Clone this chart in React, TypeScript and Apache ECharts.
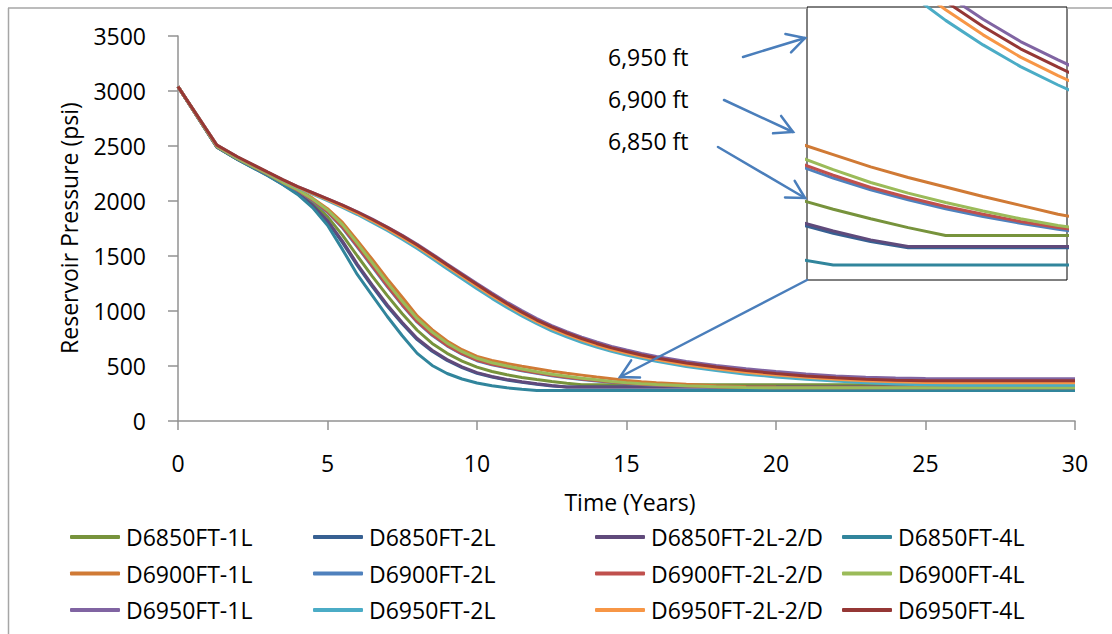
import React, { useEffect, useRef } from "react";
import * as echarts from "echarts";

// Time axis (years)
const years = [0, 1.3, 2, 3, 3.5, 4, 4.5, 5, 5.5, 6, 6.5, 7, 7.5, 8, 8.5, 9, 9.5, 10, 10.5, 11, 11.5, 12, 12.5, 13, 13.5, 14, 14.5, 15, 15.5, 16, 17, 18, 19, 20, 21, 22, 23, 24, 25, 26, 27, 28, 29, 30];

// Reservoir pressure (psi)
const d6850_1L = [3040, 2490, 2378, 2238, 2160, 2085, 1985, 1858, 1690, 1500, 1315, 1140, 975, 825, 705, 615, 545, 490, 450, 420, 396, 377, 360, 344, 330, 330, 330, 330, 330, 330, 330, 330, 330, 330, 330, 330, 330, 330, 330, 330, 330, 330, 330, 330];
const d6850_2L = [3040, 2492, 2378, 2235, 2153, 2068, 1955, 1812, 1622, 1412, 1222, 1043, 884, 740, 634, 550, 485, 434, 400, 373, 352, 334, 319, 308, 308, 308, 308, 308, 308, 308, 308, 308, 308, 308, 308, 308, 308, 308, 308, 308, 308, 308, 308, 308];
const d6850_2L2D = [3040, 2492, 2378, 2235, 2155, 2072, 1962, 1822, 1635, 1425, 1235, 1055, 895, 750, 643, 558, 492, 440, 405, 378, 356, 338, 322, 310, 310, 310, 310, 310, 310, 310, 310, 310, 310, 310, 310, 310, 310, 310, 310, 310, 310, 310, 310, 310];
const d6850_4L = [3040, 2490, 2375, 2230, 2150, 2060, 1940, 1780, 1560, 1330, 1140, 950, 775, 615, 505, 432, 382, 346, 320, 302, 288, 277, 277, 277, 277, 277, 277, 277, 277, 277, 277, 277, 277, 277, 277, 277, 277, 277, 277, 277, 277, 277, 277, 277];
const d6900_1L = [3040, 2495, 2385, 2247, 2172, 2106, 2026, 1930, 1805, 1640, 1468, 1292, 1125, 955, 830, 728, 648, 588, 550, 522, 497, 475, 453, 434, 417, 400, 384, 368, 356, 347, 333, 321, 312, 308, 306, 306, 306, 306, 306, 306, 306, 306, 306, 306];
const d6900_2L = [3040, 2495, 2385, 2245, 2167, 2095, 2005, 1898, 1757, 1582, 1402, 1222, 1053, 898, 779, 683, 607, 548, 510, 483, 457, 433, 412, 394, 378, 364, 352, 341, 332, 326, 316, 309, 304, 302, 302, 302, 302, 302, 302, 302, 302, 302, 302, 302];
const d6900_2L2D = [3040, 2495, 2385, 2245, 2168, 2098, 2010, 1905, 1765, 1590, 1410, 1230, 1060, 905, 785, 688, 612, 553, 515, 488, 462, 438, 416, 398, 382, 368, 355, 344, 335, 328, 318, 310, 305, 303, 303, 303, 303, 303, 303, 303, 303, 303, 303, 303];
const d6900_4L = [3040, 2495, 2385, 2246, 2170, 2102, 2018, 1918, 1785, 1615, 1437, 1258, 1088, 930, 808, 708, 630, 570, 530, 500, 473, 448, 425, 406, 389, 374, 360, 348, 338, 331, 320, 311, 305, 302, 302, 302, 302, 302, 302, 302, 302, 302, 302, 302];
const d6950_1L = [3040, 2508, 2400, 2262, 2195, 2130, 2075, 2020, 1963, 1902, 1835, 1764, 1688, 1606, 1519, 1428, 1339, 1250, 1163, 1080, 1003, 931, 868, 813, 763, 718, 678, 645, 614, 587, 542, 505, 474, 449, 427, 410, 398, 390, 386, 385, 385, 385, 385, 385];
const d6950_2L = [3040, 2505, 2396, 2258, 2190, 2122, 2063, 2004, 1942, 1877, 1806, 1732, 1652, 1568, 1478, 1385, 1294, 1203, 1115, 1032, 955, 884, 820, 766, 716, 672, 633, 600, 570, 542, 496, 458, 426, 401, 380, 363, 348, 337, 330, 326, 325, 325, 325, 325];
const d6950_2L2D = [3040, 2506, 2398, 2260, 2192, 2126, 2069, 2012, 1952, 1889, 1820, 1747, 1669, 1586, 1497, 1405, 1315, 1225, 1137, 1054, 976, 904, 840, 785, 735, 690, 650, 617, 586, 558, 512, 474, 443, 418, 397, 380, 366, 356, 350, 347, 347, 347, 347, 347];
const d6950_4L = [3040, 2508, 2400, 2262, 2195, 2130, 2075, 2020, 1962, 1900, 1832, 1760, 1683, 1600, 1512, 1420, 1330, 1240, 1152, 1068, 990, 918, 855, 800, 750, 705, 665, 632, 600, 573, 527, 490, 458, 432, 410, 393, 380, 371, 367, 367, 367, 367, 367, 367];

const seriesNames = ["D6850FT-1L", "D6850FT-2L", "D6850FT-2L-2/D", "D6850FT-4L", "D6900FT-1L", "D6900FT-2L", "D6900FT-2L-2/D", "D6900FT-4L", "D6950FT-1L", "D6950FT-2L", "D6950FT-2L-2/D", "D6950FT-4L"];
const seriesValues = [d6850_1L, d6850_2L, d6850_2L2D, d6850_4L, d6900_1L, d6900_2L, d6900_2L2D, d6900_4L, d6950_1L, d6950_2L, d6950_2L2D, d6950_4L];
const seriesColors = ["#77933c", "#376092", "#604a7b", "#31859c", "#d07a35", "#4f81bd", "#c0504d", "#9bbb59", "#8064a2", "#4bacc6", "#f79646", "#953735"];

const depthLabels = ["6,950 ft", "6,900 ft", "6,850 ft"];
const xTitle = "Time (Years)";
const yTitle = "Reservoir Pressure (psi)";

const FONT = "'Open Sans', sans-serif";
const FS = 23;
const AXIS_GRAY = "#929292";
const ARROW = "#4a7ebb";

function arrow(x1: number, y1: number, x2: number, y2: number) {
  const ang = Math.atan2(y1 - y2, x1 - x2);
  const L = 20;
  const a = 0.5;
  const w1 = [x2 + L * Math.cos(ang + a), y2 + L * Math.sin(ang + a)];
  const w2 = [x2 + L * Math.cos(ang - a), y2 + L * Math.sin(ang - a)];
  return [
    { type: "line", z: 100, shape: { x1, y1, x2, y2 }, style: { stroke: ARROW, lineWidth: 2.5, lineCap: "round" } },
    { type: "polyline", z: 100, shape: { points: [w1, [x2, y2], w2] }, style: { stroke: ARROW, lineWidth: 2.5, fill: null, lineCap: "round", lineJoin: "miter" } },
  ];
}

function textEl(text: string, x: number, y: number, align: string, rotation = 0) {
  return {
    type: "text",
    z: 100,
    x,
    y,
    rotation,
    style: {
      text,
      fontSize: FS,
      fontFamily: FONT,
      fill: "#000",
      textAlign: align,
      align,
      textVerticalAlign: "middle",
      verticalAlign: "middle",
    },
  };
}

function buildOption() {
  const mainSeries = seriesNames.map((name, i) => ({
    type: "line",
    name,
    xAxisIndex: 0,
    yAxisIndex: 0,
    z: 3,
    data: years.map((t, j) => [t, seriesValues[i][j]]),
    symbol: "none",
    silent: true,
    lineStyle: { width: 3, color: seriesColors[i] },
    itemStyle: { color: seriesColors[i] },
  }));
  const insetSeries = seriesNames.map((name, i) => ({
    type: "line",
    name: name + " inset",
    xAxisIndex: 1,
    yAxisIndex: 1,
    z: 3,
    data: years.map((t, j) => [t, seriesValues[i][j]]),
    symbol: "none",
    silent: true,
    clip: true,
    lineStyle: { width: 3, color: seriesColors[i] },
    itemStyle: { color: seriesColors[i] },
  }));

  const legendLefts = [70, 313, 595, 842];
  const legends = legendLefts.map((left, c) => ({
    orient: "vertical",
    left,
    top: 525,
    padding: 0,
    itemGap: 12.5,
    itemWidth: 50,
    itemHeight: 4,
    icon: "roundRect",
    selectedMode: false,
    data: [seriesNames[c], seriesNames[c + 4], seriesNames[c + 8]],
    textStyle: { fontSize: FS, lineHeight: 24, fontFamily: FONT, color: "#000", padding: [0, 0, 0, 1] },
  }));

  const axisLineStyle = { color: AXIS_GRAY, width: 1.5 };

  return {
    animation: false,
    backgroundColor: "#ffffff",
    grid: [
      { left: 178, top: 36, width: 897, height: 385, show: false },
      { left: 807, top: 7, width: 260, height: 273, show: true, backgroundColor: "#ffffff", borderColor: "#000000", borderWidth: 1, z: 0 },
    ],
    xAxis: [
      {
        type: "value",
        gridIndex: 0,
        min: 0,
        max: 30,
        interval: 5,
        axisLine: { show: true, lineStyle: axisLineStyle },
        axisTick: { show: true, inside: false, length: 9, lineStyle: axisLineStyle },
        splitLine: { show: false },
        axisLabel: { margin: 30, fontSize: FS, fontFamily: FONT, color: "#000", formatter: (v: number) => String(v) },
      },
      { type: "value", gridIndex: 1, min: 11.65, max: 15.12, show: false, splitLine: { show: false } },
    ],
    yAxis: [
      {
        type: "value",
        gridIndex: 0,
        min: 0,
        max: 3500,
        interval: 500,
        axisLine: { show: true, lineStyle: axisLineStyle },
        axisTick: { show: true, inside: false, length: 10, lineStyle: axisLineStyle },
        splitLine: { show: false },
        axisLabel: { margin: 32, fontSize: FS, fontFamily: FONT, color: "#000", formatter: (v: number) => String(v) },
      },
      { type: "value", gridIndex: 1, min: 250, max: 740, show: false, splitLine: { show: false } },
    ],
    legend: legends,
    series: [...mainSeries, ...insetSeries],
    graphic: [
      { type: "line", z: 0, shape: { x1: 8.5, y1: 8, x2: 8.5, y2: 640 }, style: { stroke: "#a6a6a6", lineWidth: 1.5 } },
      { type: "line", z: 0, shape: { x1: 8, y1: 8, x2: 807, y2: 8 }, style: { stroke: "#a6a6a6", lineWidth: 1.5 } },
      { type: "line", z: 0, shape: { x1: 1067, y1: 8, x2: 1120, y2: 8 }, style: { stroke: "#a6a6a6", lineWidth: 1.5 } },
      textEl(yTitle, 69, 228, "center", Math.PI / 2),
      textEl(xTitle, 630, 502, "center"),
      textEl(depthLabels[0], 608, 57, "left"),
      textEl(depthLabels[1], 608, 99, "left"),
      textEl(depthLabels[2], 608, 141, "left"),
      ...arrow(743, 57, 805, 38),
      ...arrow(724, 100, 793, 132),
      ...arrow(718, 147, 805, 198),
      ...arrow(807, 280, 620, 377),
    ],
  };
}

export default function App() {
  const ref = useRef<HTMLDivElement>(null);
  useEffect(() => {
    if (!ref.current) return;
    const chart = echarts.init(ref.current, null, { renderer: "svg" });
    chart.setOption(buildOption() as any);
    return () => chart.dispose();
  }, []);
  return (
    <div
      ref={ref}
      style={{ position: "fixed", left: 0, top: 0, width: 1112, height: 634, background: "#ffffff" }}
    />
  );
}
